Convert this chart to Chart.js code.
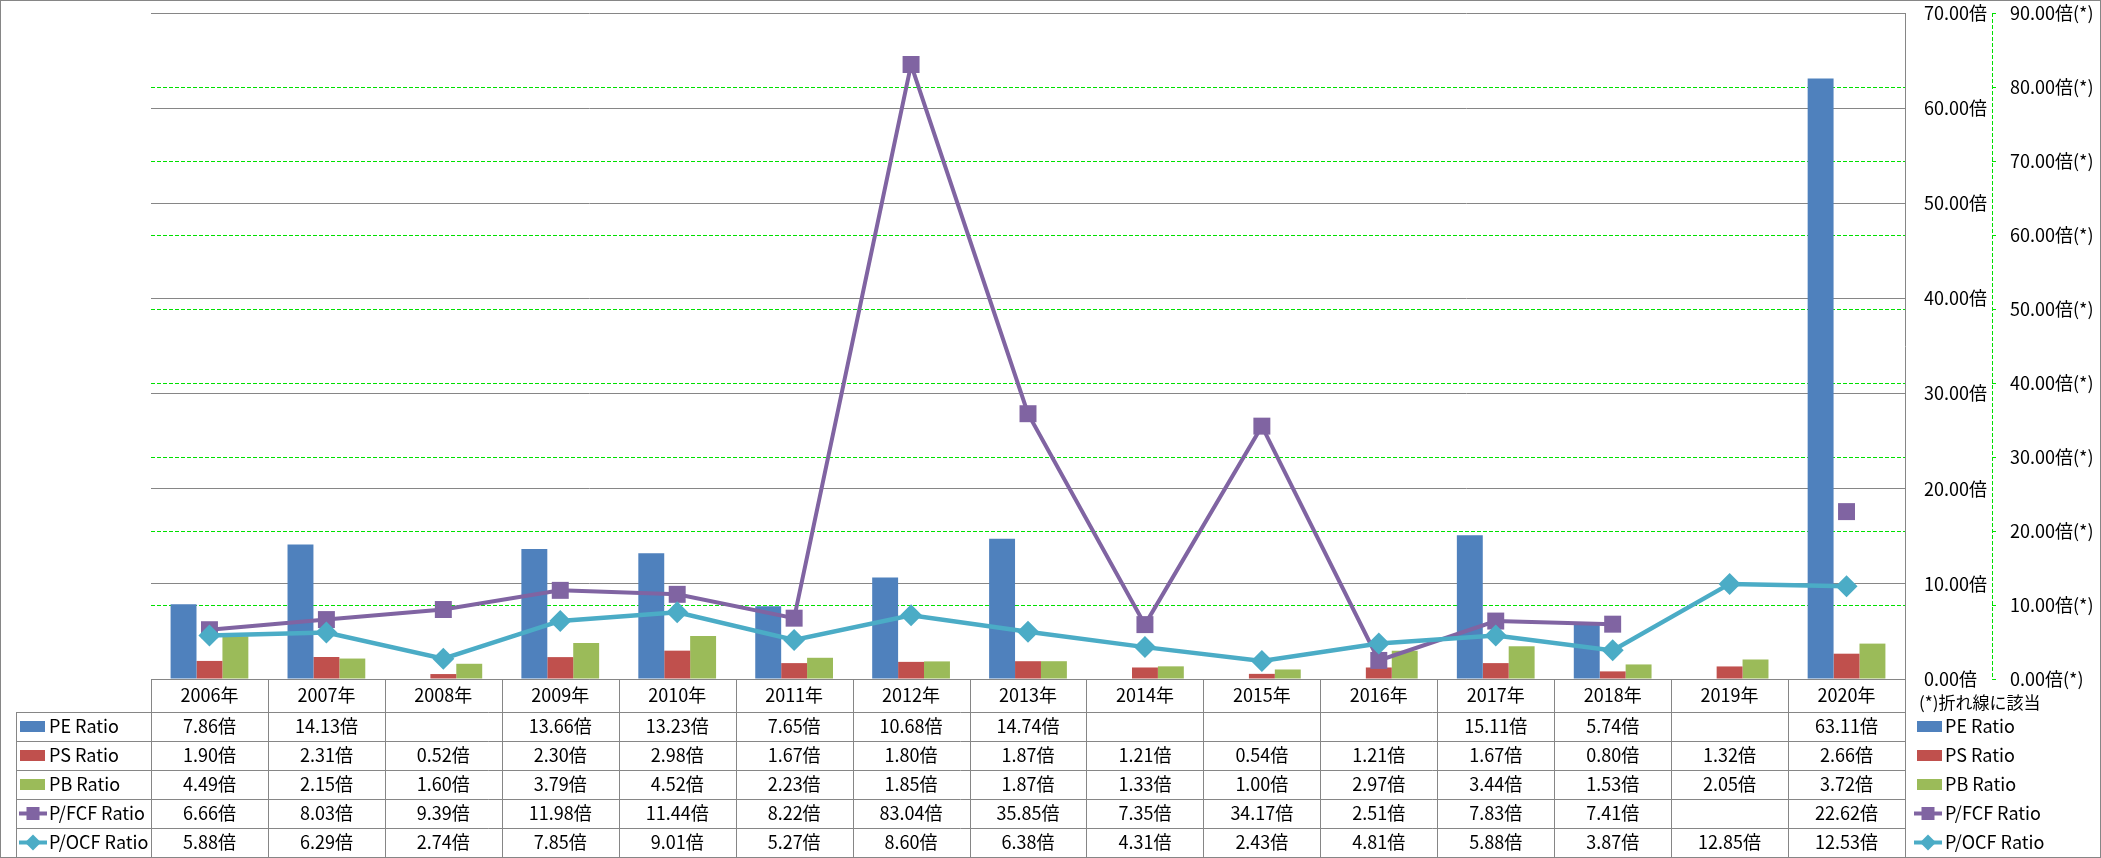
<!DOCTYPE html>
<html>
<head>
<meta charset="utf-8">
<script src="https://cdn.jsdelivr.net/npm/chart.js@4.4.0/dist/chart.umd.min.js"></script>
<style>
  html, body { margin: 0; padding: 0; background: #fff; }
</style>
</head>
<body>
<canvas id="ratio-chart" width="2101" height="858"></canvas>
<script>
// Data
const years = ['2006年', '2007年', '2008年', '2009年', '2010年', '2011年', '2012年', '2013年',
               '2014年', '2015年', '2016年', '2017年', '2018年', '2019年', '2020年'];
const peRatio = [7.86, 14.13, null, 13.66, 13.23, 7.65, 10.68, 14.74, null, null, null, 15.11, 5.74, null, 63.11];
const psRatio = [1.90, 2.31, 0.52, 2.30, 2.98, 1.67, 1.80, 1.87, 1.21, 0.54, 1.21, 1.67, 0.80, 1.32, 2.66];
const pbRatio = [4.49, 2.15, 1.60, 3.79, 4.52, 2.23, 1.85, 1.87, 1.33, 1.00, 2.97, 3.44, 1.53, 2.05, 3.72];
const pfcfRatio = [6.66, 8.03, 9.39, 11.98, 11.44, 8.22, 83.04, 35.85, 7.35, 34.17, 2.51, 7.83, 7.41, null, 22.62];
const pocfRatio = [5.88, 6.29, 2.74, 7.85, 9.01, 5.27, 8.60, 6.38, 4.31, 2.43, 4.81, 5.88, 3.87, 12.85, 12.53];

const leftTicks = [0, 10, 20, 30, 40, 50, 60, 70];
const rightTicks = [0, 10, 20, 30, 40, 50, 60, 70, 80, 90];
const lineNote = '(*)折れ線に該当';

const colors = {
    pe: '#4F81BD',
    ps: '#C0504D',
    pb: '#9BBB59',
    pfcf: '#8064A2',
    pocf: '#4BACC6',
    grid: '#868686',
    green: '#00E000',
    text: '#000000'
};

const FONT = "'Noto Sans CJK JP', 'Noto Sans', sans-serif";

const fmt = v => (v === null || v === undefined) ? '' : v.toFixed(2) + '倍';

// Draw a legend key (bar swatch or line with marker)
function drawKey(ctx, ds, x, y) {
    ctx.save();
    if (ds.type === 'line') {
        ctx.strokeStyle = ds.borderColor;
        ctx.lineWidth = 4;
        ctx.beginPath();
        ctx.moveTo(x, y);
        ctx.lineTo(x + 28, y);
        ctx.stroke();
        ctx.fillStyle = ds.borderColor;
        const cx = x + 14;
        if (ds.pointStyle === 'rectRot') {
            ctx.beginPath();
            ctx.moveTo(cx - 8, y);
            ctx.lineTo(cx, y - 8);
            ctx.lineTo(cx + 8, y);
            ctx.lineTo(cx, y + 8);
            ctx.closePath();
            ctx.fill();
        } else {
            ctx.fillRect(cx - 6.5, y - 6.5, 13, 13);
        }
    } else {
        ctx.fillStyle = ds.backgroundColor;
        ctx.fillRect(x, y - 5.5, 25, 11);
    }
    ctx.restore();
}

// Data table under the plot + legends + outer frame
const dataTablePlugin = {
    id: 'dataTable',
    afterDraw(chart) {
        const ctx = chart.ctx;
        const xScale = chart.scales.x;
        const y2 = chart.scales.y2;
        const area = chart.chartArea;
        const headTop = area.bottom;
        const headH = 33;
        const rowH = 29;
        const slot = (area.right - area.left) / years.length;
        const tableLeft = 16;
        const rows = chart.data.datasets;
        const bottom = headTop + headH + rowH * rows.length;

        ctx.save();
        // grid lines of the table
        ctx.strokeStyle = colors.grid;
        ctx.lineWidth = 1;
        ctx.beginPath();
        ctx.moveTo(area.left, Math.round(headTop) + 0.5);
        ctx.lineTo(area.right, Math.round(headTop) + 0.5);
        for (let r = 0; r <= rows.length; r++) {
            const yy = Math.round(headTop + headH + r * rowH) + 0.5;
            ctx.moveTo(tableLeft, yy);
            ctx.lineTo(area.right, yy);
        }
        for (let i = 0; i <= years.length; i++) {
            const xx = Math.round(area.left + i * slot) + 0.5;
            ctx.moveTo(xx, headTop);
            ctx.lineTo(xx, bottom);
        }
        ctx.moveTo(tableLeft + 0.5, headTop + headH);
        ctx.lineTo(tableLeft + 0.5, bottom);
        ctx.moveTo(Math.round(area.right) + 0.5, headTop);
        ctx.lineTo(Math.round(area.right) + 0.5, bottom);
        ctx.stroke();

        // header and values
        ctx.fillStyle = colors.text;
        ctx.font = '18px ' + FONT;
        ctx.textAlign = 'center';
        ctx.textBaseline = 'middle';
        years.forEach((yr, i) => {
            const cx = xScale.getPixelForValue(i);
            ctx.fillText(yr, cx, headTop + headH / 2);
            rows.forEach((ds, r) => {
                ctx.fillText(fmt(ds.data[i]), cx, headTop + headH + r * rowH + rowH / 2);
            });
        });

        // row labels in the left column and the right legend
        ctx.textAlign = 'left';
        rows.forEach((ds, r) => {
            const cy = headTop + headH + r * rowH + rowH / 2;
            drawKey(ctx, ds, ds.type === 'line' ? 19 : 20, cy);
            ctx.fillText(ds.label, 49, cy);
            drawKey(ctx, ds, ds.type === 'line' ? 1914 : 1917, cy);
            ctx.fillText(ds.label, 1945, cy);
        });
        ctx.font = '17px ' + FONT;
        ctx.fillText(lineNote, 1919, headTop + 24);

        // secondary axis line (dashed green)
        ctx.strokeStyle = colors.green;
        ctx.setLineDash([4, 2]);
        ctx.beginPath();
        ctx.moveTo(Math.round(y2.left) + 0.5, area.top);
        ctx.lineTo(Math.round(y2.left) + 0.5, area.bottom);
        ctx.stroke();
        ctx.setLineDash([]);

        // outer frame
        ctx.strokeStyle = colors.grid;
        ctx.strokeRect(0.5, 0.5, chart.width - 1, chart.height - 1);
        ctx.restore();
    }
};

const data = {
    labels: years,
    datasets: [
        { type: 'bar', label: 'PE Ratio', data: peRatio, backgroundColor: colors.pe, yAxisID: 'y', order: 2 },
        { type: 'bar', label: 'PS Ratio', data: psRatio, backgroundColor: colors.ps, yAxisID: 'y', order: 2 },
        { type: 'bar', label: 'PB Ratio', data: pbRatio, backgroundColor: colors.pb, yAxisID: 'y', order: 2 },
        {
            type: 'line', label: 'P/FCF Ratio', data: pfcfRatio, yAxisID: 'y2', order: 1,
            borderColor: colors.pfcf, backgroundColor: colors.pfcf, borderWidth: 4,
            pointStyle: 'rect', pointRadius: 12, pointBorderWidth: 0, tension: 0, spanGaps: false
        },
        {
            type: 'line', label: 'P/OCF Ratio', data: pocfRatio, yAxisID: 'y2', order: 0,
            borderColor: colors.pocf, backgroundColor: colors.pocf, borderWidth: 4.5,
            pointStyle: 'rectRot', pointRadius: 11, pointBorderWidth: 0, tension: 0, spanGaps: false
        }
    ]
};

// fixed axis widths, and no extra room above/below the plot for the tick labels
const fitAxis = width => s => {
    s.width = width;
    s.paddingTop = 0;
    s.paddingBottom = 0;
};

document.addEventListener('DOMContentLoaded', function() {
    const chartDom = document.getElementById('ratio-chart').getContext('2d');
    new Chart(chartDom, {
        type: 'bar',
        data: data,
        plugins: [dataTablePlugin],
        options: {
            responsive: false,
            animation: false,
            layout: { padding: { left: 151, top: 13, right: 0, bottom: 179 } },
            datasets: { bar: { categoryPercentage: 0.665, barPercentage: 1.0 } },
            plugins: {
                legend: { display: false },
                tooltip: { enabled: false }
            },
            scales: {
                x: { display: false, offset: true },
                y: {
                    position: 'right',
                    min: 0, max: 70,
                    afterBuildTicks: s => { s.ticks = leftTicks.map(v => ({ value: v })); },
                    afterFit: fitAxis(87),
                    grid: { color: colors.grid, lineWidth: 1, drawTicks: false },
                    border: { display: true, color: colors.grid, width: 1 },
                    ticks: {
                        padding: 19, crossAlign: 'near', color: colors.text,
                        font: { family: FONT, size: 18 },
                        callback: v => v.toFixed(2) + '倍'
                    }
                },
                y2: {
                    position: 'right',
                    min: 0, max: 90,
                    afterBuildTicks: s => { s.ticks = rightTicks.map(v => ({ value: v })); },
                    afterFit: fitAxis(109),
                    grid: {
                        color: c => (c.tick && (c.tick.value === 0 || c.tick.value === 90)) ? 'rgba(0,0,0,0)' : colors.green,
                        lineWidth: 1, drawTicks: true, tickLength: 5,
                        tickColor: colors.green, tickBorderDash: [4, 2]
                    },
                    // in v4 border.dash is what dashes the grid lines
                    border: { display: false, dash: [4, 2] },
                    ticks: {
                        padding: 13, crossAlign: 'near', color: colors.text,
                        font: { family: FONT, size: 18 },
                        callback: v => v.toFixed(2) + '倍(*)'
                    }
                }
            }
        }
    });
});
</script>
</body>
</html>
